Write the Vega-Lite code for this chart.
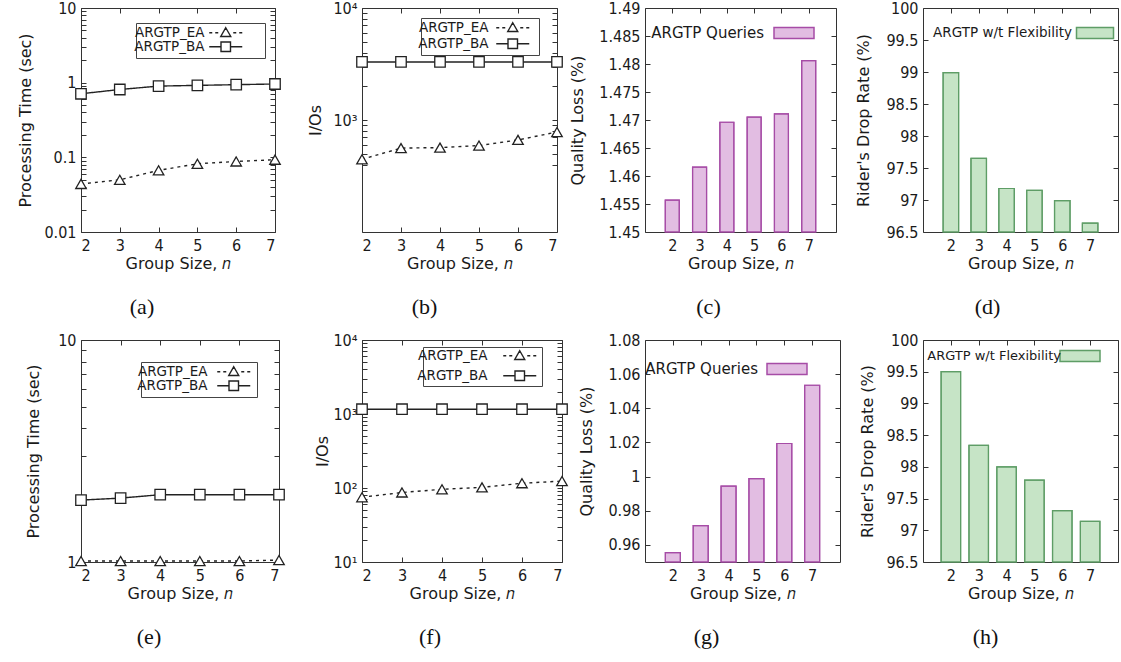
{
  "$schema": "https://vega.github.io/schema/vega-lite/v6.json",
  "background": "white",
  "padding": {"left": 17, "top": -1, "right": 0, "bottom": 0},
  "config": {
    "view": {"stroke": "#333", "strokeWidth": 1},
    "axis": {
      "grid": false, "domain": false, "tickColor": "#333", "tickSize": -5, "tickWidth": 1,
      "labelPadding": 10, "labelFont": "Liberation Sans Narrow, DejaVu Sans Condensed, sans-serif",
      "labelFontSize": 16, "labelColor": "#1a1a1a",
      "titleFont": "DejaVu Sans", "titleFontSize": 16, "titleFontWeight": "normal",
      "titleColor": "#1a1a1a", "titlePadding": 2
    },
    "title": {"orient": "bottom", "anchor": "middle", "font": "Liberation Serif", "fontSize": 22,
              "fontWeight": "normal", "color": "#111", "offset": 26},
    "legend": {"labelFont": "DejaVu Sans", "labelColor": "#1a1a1a", "title": null, "labelAlign": "right"}
  },
  "datasets": {
    "pa": [
      {"n": 2, "s": "ARGTP_EA", "v": 0.044}, {"n": 3, "s": "ARGTP_EA", "v": 0.050},
      {"n": 4, "s": "ARGTP_EA", "v": 0.067}, {"n": 5, "s": "ARGTP_EA", "v": 0.082},
      {"n": 6, "s": "ARGTP_EA", "v": 0.088}, {"n": 7, "s": "ARGTP_EA", "v": 0.093},
      {"n": 2, "s": "ARGTP_BA", "v": 0.71}, {"n": 3, "s": "ARGTP_BA", "v": 0.81},
      {"n": 4, "s": "ARGTP_BA", "v": 0.90}, {"n": 5, "s": "ARGTP_BA", "v": 0.92},
      {"n": 6, "s": "ARGTP_BA", "v": 0.94}, {"n": 7, "s": "ARGTP_BA", "v": 0.96}
    ],
    "pb": [
      {"n": 2, "s": "ARGTP_EA", "v": 446}, {"n": 3, "s": "ARGTP_EA", "v": 561},
      {"n": 4, "s": "ARGTP_EA", "v": 567}, {"n": 5, "s": "ARGTP_EA", "v": 591},
      {"n": 6, "s": "ARGTP_EA", "v": 664}, {"n": 7, "s": "ARGTP_EA", "v": 781},
      {"n": 2, "s": "ARGTP_BA", "v": 3300}, {"n": 3, "s": "ARGTP_BA", "v": 3300},
      {"n": 4, "s": "ARGTP_BA", "v": 3300}, {"n": 5, "s": "ARGTP_BA", "v": 3300},
      {"n": 6, "s": "ARGTP_BA", "v": 3300}, {"n": 7, "s": "ARGTP_BA", "v": 3300}
    ],
    "pc": [
      {"n": 2, "s": "ARGTP Queries", "v": 1.4557}, {"n": 3, "s": "ARGTP Queries", "v": 1.4616},
      {"n": 4, "s": "ARGTP Queries", "v": 1.4696}, {"n": 5, "s": "ARGTP Queries", "v": 1.4705},
      {"n": 6, "s": "ARGTP Queries", "v": 1.4711}, {"n": 7, "s": "ARGTP Queries", "v": 1.4806}
    ],
    "pd": [
      {"n": 2, "s": "ARGTP w/t Flexibility", "v": 98.99}, {"n": 3, "s": "ARGTP w/t Flexibility", "v": 97.65},
      {"n": 4, "s": "ARGTP w/t Flexibility", "v": 97.18}, {"n": 5, "s": "ARGTP w/t Flexibility", "v": 97.15},
      {"n": 6, "s": "ARGTP w/t Flexibility", "v": 96.99}, {"n": 7, "s": "ARGTP w/t Flexibility", "v": 96.64}
    ],
    "pe": [
      {"n": 2, "s": "ARGTP_EA", "v": 1.01}, {"n": 3, "s": "ARGTP_EA", "v": 1.01},
      {"n": 4, "s": "ARGTP_EA", "v": 1.01}, {"n": 5, "s": "ARGTP_EA", "v": 1.01},
      {"n": 6, "s": "ARGTP_EA", "v": 1.01}, {"n": 7, "s": "ARGTP_EA", "v": 1.02},
      {"n": 2, "s": "ARGTP_BA", "v": 1.90}, {"n": 3, "s": "ARGTP_BA", "v": 1.94},
      {"n": 4, "s": "ARGTP_BA", "v": 2.01}, {"n": 5, "s": "ARGTP_BA", "v": 2.01},
      {"n": 6, "s": "ARGTP_BA", "v": 2.01}, {"n": 7, "s": "ARGTP_BA", "v": 2.01}
    ],
    "pf": [
      {"n": 2, "s": "ARGTP_EA", "v": 75}, {"n": 3, "s": "ARGTP_EA", "v": 87},
      {"n": 4, "s": "ARGTP_EA", "v": 96}, {"n": 5, "s": "ARGTP_EA", "v": 102},
      {"n": 6, "s": "ARGTP_EA", "v": 116}, {"n": 7, "s": "ARGTP_EA", "v": 124},
      {"n": 2, "s": "ARGTP_BA", "v": 1160}, {"n": 3, "s": "ARGTP_BA", "v": 1160},
      {"n": 4, "s": "ARGTP_BA", "v": 1160}, {"n": 5, "s": "ARGTP_BA", "v": 1160},
      {"n": 6, "s": "ARGTP_BA", "v": 1160}, {"n": 7, "s": "ARGTP_BA", "v": 1160}
    ],
    "pg": [
      {"n": 2, "s": "ARGTP Queries", "v": 0.9555}, {"n": 3, "s": "ARGTP Queries", "v": 0.9713},
      {"n": 4, "s": "ARGTP Queries", "v": 0.9944}, {"n": 5, "s": "ARGTP Queries", "v": 0.9988},
      {"n": 6, "s": "ARGTP Queries", "v": 1.0194}, {"n": 7, "s": "ARGTP Queries", "v": 1.0535}
    ],
    "ph": [
      {"n": 2, "s": "ARGTP w/t Flexibility", "v": 99.5}, {"n": 3, "s": "ARGTP w/t Flexibility", "v": 98.34},
      {"n": 4, "s": "ARGTP w/t Flexibility", "v": 98.0}, {"n": 5, "s": "ARGTP w/t Flexibility", "v": 97.79},
      {"n": 6, "s": "ARGTP w/t Flexibility", "v": 97.31}, {"n": 7, "s": "ARGTP w/t Flexibility", "v": 97.14}
    ]
  },
  "columns": 4,
  "bounds": "flush",
  "align": "each",
  "spacing": {"row": 108, "column": 83},
  "resolve": {
    "scale": {"color": "independent", "strokeWidth": "independent"},
    "legend": {"color": "independent", "strokeWidth": "independent"}
  },
  "concat": [
    {
      "width": 194, "height": 224,
      "data": {"name": "pa"},
      "title": {"text": "(a)", "dx": -36},
      "layer": [
        {
          "mark": {"type": "line", "color": "#222"},
          "encoding": {
            "x": {"field": "n", "type": "quantitative", "scale": {"domain": [2, 7]},
                  "axis": {"orient": "bottom", "values": [2, 3, 4, 5, 6, 7], "title": "Group Size, 𝑛"}},
            "y": {"field": "v", "type": "quantitative", "scale": {"type": "log", "domain": [0.01, 10]},
                  "axis": {"orient": "left", "title": "Processing Time (sec)", "titlePadding": 10,
                           "values": [0.01, 0.02, 0.03, 0.04, 0.05, 0.06, 0.07, 0.08, 0.09, 0.1, 0.2, 0.3, 0.4, 0.5, 0.6, 0.7, 0.8, 0.9, 1, 2, 3, 4, 5, 6, 7, 8, 9, 10],
                           "labelExpr": "datum.value === 0.01 ? '0.01' : datum.value === 0.1 ? '0.1' : datum.value === 1 ? '1' : datum.value === 10 ? '10' : ''"}},
            "strokeDash": {"condition": {"test": "datum.s === 'ARGTP_EA'", "value": [3, 4]}, "value": [1, 0]},
            "strokeWidth": {"field": "s", "type": "ordinal",
                            "scale": {"domain": ["ARGTP_EA", "ARGTP_BA"], "range": [1.4, 1.4]},
                            "legend": {"orient": "none", "legendX": 55, "legendY": 15, "strokeColor": "#444", "fillColor": "white",
                                       "padding": 3, "rowPadding": -10, "labelFontSize": 13.5, "symbolSize": 100,
                                       "labelOffset": -28, "symbolOffset": 80,
                                       "symbolType": {"expr": "datum.value === 'ARGTP_EA' ? 'M-3.3,0H-2.7M-2.1,0H-1.5M1.5,0H2.1M2.7,0H3.3M0,-1L1,0.75H-1ZM6.6,0M-19,0' : 'M-3.3,0H-0.95M0.95,0H3.3M-0.95,-0.95H0.95V0.95H-0.95ZM6.6,0M-19,0'"},
                                       "encode": {"symbols": {"fill": {"value": "transparent"}, "stroke": {"value": "#222"}}}}}
          }
        },
        {
          "mark": {"type": "point", "filled": true, "fill": "white", "stroke": "#222", "strokeWidth": 1.3, "size": 110, "opacity": 1},
          "encoding": {
            "x": {"field": "n", "type": "quantitative",
                  "axis": {"orient": "top", "values": [2, 3, 4, 5, 6, 7], "labels": false, "title": null}},
            "y": {"field": "v", "type": "quantitative",
                  "axis": {"orient": "right", "labels": false, "title": null,
                           "values": [0.01, 0.02, 0.03, 0.04, 0.05, 0.06, 0.07, 0.08, 0.09, 0.1, 0.2, 0.3, 0.4, 0.5, 0.6, 0.7, 0.8, 0.9, 1, 2, 3, 4, 5, 6, 7, 8, 9, 10]}},
            "shape": {"condition": {"test": "datum.s === 'ARGTP_EA'", "value": "triangle-up"}, "value": "square"}
          }
        }
      ]
    },
    {
      "width": 195, "height": 224,
      "data": {"name": "pb"},
      "title": {"text": "(b)", "dx": -35},
      "layer": [
        {
          "mark": {"type": "line", "color": "#222"},
          "encoding": {
            "x": {"field": "n", "type": "quantitative", "scale": {"domain": [2, 7]},
                  "axis": {"orient": "bottom", "values": [2, 3, 4, 5, 6, 7], "title": "Group Size, 𝑛"}},
            "y": {"field": "v", "type": "quantitative", "scale": {"type": "log", "domain": [300, 10000]},
                  "axis": {"orient": "left", "title": "I/Os", "titlePadding": 9,
                           "values": [400, 500, 600, 700, 800, 900, 1000, 2000, 3000, 4000, 5000, 6000, 7000, 8000, 9000, 10000],
                           "labelExpr": "datum.value === 1000 ? '10³' : datum.value === 10000 ? '10⁴' : ''"}},
            "strokeDash": {"condition": {"test": "datum.s === 'ARGTP_EA'", "value": [3, 4]}, "value": [1, 0]},
            "strokeWidth": {"field": "s", "type": "ordinal",
                            "scale": {"domain": ["ARGTP_EA", "ARGTP_BA"], "range": [1.4, 1.4]},
                            "legend": {"orient": "none", "legendX": 59, "legendY": 10, "strokeColor": "#444", "fillColor": "white",
                                       "padding": 3, "rowPadding": 1, "labelFontSize": 13.5, "symbolSize": 100,
                                       "labelOffset": -31, "symbolOffset": 82,
                                       "symbolType": {"expr": "datum.value === 'ARGTP_EA' ? 'M-3.3,0H-2.7M-2.1,0H-1.5M1.5,0H2.1M2.7,0H3.3M0,-1L1,0.75H-1ZM4,0' : 'M-3.3,0H-0.95M0.95,0H3.3M-0.95,-0.95H0.95V0.95H-0.95ZM4,0'"},
                                       "encode": {"symbols": {"fill": {"value": "transparent"}, "stroke": {"value": "#222"}}}}}
          }
        },
        {
          "mark": {"type": "point", "filled": true, "fill": "white", "stroke": "#222", "strokeWidth": 1.3, "size": 110, "opacity": 1},
          "encoding": {
            "x": {"field": "n", "type": "quantitative",
                  "axis": {"orient": "top", "values": [2, 3, 4, 5, 6, 7], "labels": false, "title": null}},
            "y": {"field": "v", "type": "quantitative",
                  "axis": {"orient": "right", "labels": false, "title": null,
                           "values": [400, 500, 600, 700, 800, 900, 1000, 2000, 3000, 4000, 5000, 6000, 7000, 8000, 9000, 10000]}},
            "shape": {"condition": {"test": "datum.s === 'ARGTP_EA'", "value": "triangle-up"}, "value": "square"}
          }
        }
      ]
    },
    {
      "width": 191, "height": 224,
      "data": {"name": "pc"},
      "title": {"text": "(c)", "dx": -32},
      "layer": [
        {
          "mark": {"type": "bar", "width": 14, "stroke": "#a64ca6", "strokeWidth": 1.2},
          "encoding": {
            "x": {"field": "n", "type": "quantitative", "scale": {"domain": [1, 8], "zero": false, "nice": false, "padding": 0},
                  "axis": {"orient": "bottom", "values": [2, 3, 4, 5, 6, 7], "title": "Group Size, 𝑛"}},
            "y": {"field": "v", "type": "quantitative", "scale": {"domain": [1.45, 1.49], "zero": false},
                  "axis": {"orient": "left", "title": "Quality Loss (%)", "format": ".3~f", "titlePadding": 13,
                           "values": [1.45, 1.455, 1.46, 1.465, 1.47, 1.475, 1.48, 1.485, 1.49]}},
            "y2": {"datum": 1.45},
            "color": {"field": "s", "type": "nominal", "scale": {"range": ["#e2bde2"]},
                      "legend": {"orient": "none", "legendX": 16, "legendY": 14, "padding": 0,
                                 "labelFontSize": 15, "symbolSize": 400, "labelOffset": -41, "symbolOffset": 122,
                                 "symbolType": "M-2,-0.55H2V0.55H-2Z",
                                 "encode": {"symbols": {
                                   "fill": {"value": "#e2bde2"}, "stroke": {"value": "#a64ca6"},
                                   "strokeWidth": {"value": 1.2}}}}}
          }
        },
        {
          "mark": {"type": "bar", "width": 14, "fillOpacity": 0, "stroke": "#a64ca6", "strokeWidth": 1.2},
          "encoding": {
            "x": {"field": "n", "type": "quantitative",
                  "axis": {"orient": "top", "values": [2, 3, 4, 5, 6, 7], "labels": false, "title": null}},
            "y": {"field": "v", "type": "quantitative",
                  "axis": {"orient": "right", "labels": false, "title": null,
                           "values": [1.45, 1.455, 1.46, 1.465, 1.47, 1.475, 1.48, 1.485, 1.49]}},
            "y2": {"datum": 1.45}
          }
        }
      ]
    },
    {
      "width": 195, "height": 224,
      "data": {"name": "pd"},
      "title": {"text": "(d)", "dx": -33},
      "layer": [
        {
          "mark": {"type": "bar", "width": 15.5, "stroke": "#5e9d66", "strokeWidth": 1.2},
          "encoding": {
            "x": {"field": "n", "type": "quantitative", "scale": {"domain": [1, 8], "zero": false, "nice": false, "padding": 0},
                  "axis": {"orient": "bottom", "values": [2, 3, 4, 5, 6, 7], "title": "Group Size, 𝑛"}},
            "y": {"field": "v", "type": "quantitative", "scale": {"domain": [96.5, 100], "zero": false},
                  "axis": {"orient": "left", "title": "Rider's Drop Rate (%)", "format": ".1~f", "titlePadding": 14,
                           "values": [96.5, 97, 97.5, 98, 98.5, 99, 99.5, 100]}},
            "y2": {"datum": 96.5},
            "color": {"field": "s", "type": "nominal", "scale": {"range": ["#c6e4c6"]},
                      "legend": {"orient": "none", "legendX": 18, "legendY": 14, "padding": 0,
                                 "labelFontSize": 13.5, "symbolSize": 400, "labelOffset": -34, "symbolOffset": 143,
                                 "symbolType": "M-1.85,-0.55H1.85V0.55H-1.85Z",
                                 "encode": {"symbols": {
                                   "fill": {"value": "#c6e4c6"}, "stroke": {"value": "#5e9d66"},
                                   "strokeWidth": {"value": 1.2}}}}}
          }
        },
        {
          "mark": {"type": "bar", "width": 15.5, "fillOpacity": 0, "stroke": "#5e9d66", "strokeWidth": 1.2},
          "encoding": {
            "x": {"field": "n", "type": "quantitative",
                  "axis": {"orient": "top", "values": [2, 3, 4, 5, 6, 7], "labels": false, "title": null}},
            "y": {"field": "v", "type": "quantitative",
                  "axis": {"orient": "right", "labels": false, "title": null,
                           "values": [96.5, 97, 97.5, 98, 98.5, 99, 99.5, 100]}},
            "y2": {"datum": 96.5}
          }
        }
      ]
    },
    {
      "width": 198, "height": 222,
      "data": {"name": "pe"},
      "title": {"text": "(e)", "dx": -31},
      "layer": [
        {
          "mark": {"type": "line", "color": "#222"},
          "encoding": {
            "x": {"field": "n", "type": "quantitative", "scale": {"domain": [2, 7]},
                  "axis": {"orient": "bottom", "values": [2, 3, 4, 5, 6, 7], "title": "Group Size, 𝑛"}},
            "y": {"field": "v", "type": "quantitative", "scale": {"type": "log", "domain": [1, 10]},
                  "axis": {"orient": "left", "title": "Processing Time (sec)", "titlePadding": 16,
                           "values": [1, 2, 3, 4, 5, 6, 7, 8, 9, 10],
                           "labelExpr": "datum.value === 1 ? '1' : datum.value === 10 ? '10' : ''"}},
            "strokeDash": {"condition": {"test": "datum.s === 'ARGTP_EA'", "value": [3, 4]}, "value": [1, 0]},
            "strokeWidth": {"field": "s", "type": "ordinal",
                            "scale": {"domain": ["ARGTP_EA", "ARGTP_BA"], "range": [1.4, 1.4]},
                            "legend": {"orient": "none", "legendX": 60, "legendY": 22, "strokeColor": "#444", "fillColor": "white",
                                       "padding": 3, "rowPadding": -1, "labelFontSize": 13.5, "symbolSize": 100,
                                       "labelOffset": -33, "symbolOffset": 83,
                                       "symbolType": {"expr": "datum.value === 'ARGTP_EA' ? 'M-3.3,0H-2.7M-2.1,0H-1.5M1.5,0H2.1M2.7,0H3.3M0,-1L1,0.75H-1ZM-19,0' : 'M-3.3,0H-0.95M0.95,0H3.3M-0.95,-0.95H0.95V0.95H-0.95ZM-19,0'"},
                                       "encode": {"symbols": {"fill": {"value": "transparent"}, "stroke": {"value": "#222"}}}}}
          }
        },
        {
          "mark": {"type": "point", "filled": true, "fill": "white", "stroke": "#222", "strokeWidth": 1.3, "size": 110, "opacity": 1},
          "encoding": {
            "x": {"field": "n", "type": "quantitative",
                  "axis": {"orient": "top", "values": [2, 3, 4, 5, 6, 7], "labels": false, "title": null}},
            "y": {"field": "v", "type": "quantitative",
                  "axis": {"orient": "right", "labels": false, "title": null,
                           "values": [1, 2, 3, 4, 5, 6, 7, 8, 9, 10]}},
            "shape": {"condition": {"test": "datum.s === 'ARGTP_EA'", "value": "triangle-up"}, "value": "square"}
          }
        }
      ]
    },
    {
      "width": 200, "height": 222,
      "data": {"name": "pf"},
      "title": {"text": "(f)", "dx": -32},
      "layer": [
        {
          "mark": {"type": "line", "color": "#222"},
          "encoding": {
            "x": {"field": "n", "type": "quantitative", "scale": {"domain": [2, 7]},
                  "axis": {"orient": "bottom", "values": [2, 3, 4, 5, 6, 7], "title": "Group Size, 𝑛"}},
            "y": {"field": "v", "type": "quantitative", "scale": {"type": "log", "domain": [10, 10000]},
                  "axis": {"orient": "left", "title": "I/Os", "titlePadding": 2,
                           "values": [10, 20, 30, 40, 50, 60, 70, 80, 90, 100, 200, 300, 400, 500, 600, 700, 800, 900, 1000, 2000, 3000, 4000, 5000, 6000, 7000, 8000, 9000, 10000],
                           "labelExpr": "datum.value === 10 ? '10¹' : datum.value === 100 ? '10²' : datum.value === 1000 ? '10³' : datum.value === 10000 ? '10⁴' : ''"}},
            "strokeDash": {"condition": {"test": "datum.s === 'ARGTP_EA'", "value": [3, 4]}, "value": [1, 0]},
            "strokeWidth": {"field": "s", "type": "ordinal",
                            "scale": {"domain": ["ARGTP_EA", "ARGTP_BA"], "range": [1.4, 1.4]},
                            "legend": {"orient": "none", "legendX": 61, "legendY": 7, "strokeColor": "#444", "fillColor": "white",
                                       "padding": 2, "rowPadding": 5, "labelFontSize": 13.5, "symbolSize": 100,
                                       "labelOffset": -39, "symbolOffset": 88,
                                       "symbolType": {"expr": "datum.value === 'ARGTP_EA' ? 'M-3.3,0H-2.7M-2.1,0H-1.5M1.5,0H2.1M2.7,0H3.3M0,-1L1,0.75H-1ZM-19.4,0' : 'M-3.3,0H-0.95M0.95,0H3.3M-0.95,-0.95H0.95V0.95H-0.95ZM-19.4,0'"},
                                       "encode": {"symbols": {"fill": {"value": "transparent"}, "stroke": {"value": "#222"}}}}}
          }
        },
        {
          "mark": {"type": "point", "filled": true, "fill": "white", "stroke": "#222", "strokeWidth": 1.3, "size": 110, "opacity": 1},
          "encoding": {
            "x": {"field": "n", "type": "quantitative",
                  "axis": {"orient": "top", "values": [2, 3, 4, 5, 6, 7], "labels": false, "title": null}},
            "y": {"field": "v", "type": "quantitative",
                  "axis": {"orient": "right", "labels": false, "title": null,
                           "values": [10, 20, 30, 40, 50, 60, 70, 80, 90, 100, 200, 300, 400, 500, 600, 700, 800, 900, 1000, 2000, 3000, 4000, 5000, 6000, 7000, 8000, 9000, 10000]}},
            "shape": {"condition": {"test": "datum.s === 'ARGTP_EA'", "value": "triangle-up"}, "value": "square"}
          }
        }
      ]
    },
    {
      "width": 195, "height": 222,
      "data": {"name": "pg"},
      "title": {"text": "(g)", "dx": -36},
      "layer": [
        {
          "mark": {"type": "bar", "width": 15, "stroke": "#a64ca6", "strokeWidth": 1.2},
          "encoding": {
            "x": {"field": "n", "type": "quantitative", "scale": {"domain": [1, 8], "zero": false, "nice": false, "padding": 0},
                  "axis": {"orient": "bottom", "values": [2, 3, 4, 5, 6, 7], "title": "Group Size, 𝑛"}},
            "y": {"field": "v", "type": "quantitative", "scale": {"domain": [0.95, 1.08], "zero": false},
                  "axis": {"orient": "left", "title": "Quality Loss (%)", "format": ".2~f", "titlePadding": 13,
                           "values": [0.96, 0.98, 1, 1.02, 1.04, 1.06, 1.08]}},
            "y2": {"datum": 0.95},
            "color": {"field": "s", "type": "nominal", "scale": {"range": ["#e2bde2"]},
                      "legend": {"orient": "none", "legendX": 6, "legendY": 18, "padding": 0,
                                 "labelFontSize": 15, "symbolSize": 400, "labelOffset": -40, "symbolOffset": 125,
                                 "symbolType": "M-2,-0.55H2V0.55H-2Z",
                                 "encode": {"symbols": {
                                   "fill": {"value": "#e2bde2"}, "stroke": {"value": "#a64ca6"},
                                   "strokeWidth": {"value": 1.2}}}}}
          }
        },
        {
          "mark": {"type": "bar", "width": 15, "fillOpacity": 0, "stroke": "#a64ca6", "strokeWidth": 1.2},
          "encoding": {
            "x": {"field": "n", "type": "quantitative",
                  "axis": {"orient": "top", "values": [2, 3, 4, 5, 6, 7], "labels": false, "title": null}},
            "y": {"field": "v", "type": "quantitative",
                  "axis": {"orient": "right", "labels": false, "title": null,
                           "values": [0.96, 0.98, 1, 1.02, 1.04, 1.06, 1.08]}},
            "y2": {"datum": 0.95}
          }
        }
      ]
    },
    {
      "width": 195, "height": 222,
      "data": {"name": "ph"},
      "title": {"text": "(h)", "dx": -35},
      "layer": [
        {
          "mark": {"type": "bar", "width": 19.5, "stroke": "#5e9d66", "strokeWidth": 1.2},
          "encoding": {
            "x": {"field": "n", "type": "quantitative", "scale": {"domain": [1, 8], "zero": false, "nice": false, "padding": 0},
                  "axis": {"orient": "bottom", "values": [2, 3, 4, 5, 6, 7], "title": "Group Size, 𝑛"}},
            "y": {"field": "v", "type": "quantitative", "scale": {"domain": [96.5, 100], "zero": false},
                  "axis": {"orient": "left", "title": "Rider's Drop Rate (%)", "format": ".1~f", "titlePadding": 10,
                           "values": [96.5, 97, 97.5, 98, 98.5, 99, 99.5, 100]}},
            "y2": {"datum": 96.5},
            "color": {"field": "s", "type": "nominal", "scale": {"range": ["#c6e4c6"]},
                      "legend": {"orient": "none", "legendX": 8, "legendY": 5, "padding": 0,
                                 "labelFontSize": 13, "symbolSize": 400, "labelOffset": -30, "symbolOffset": 138,
                                 "symbolType": "M-2,-0.55H2V0.55H-2Z",
                                 "encode": {"symbols": {
                                   "fill": {"value": "#c6e4c6"}, "stroke": {"value": "#5e9d66"},
                                   "strokeWidth": {"value": 1.2}}}}}
          }
        },
        {
          "mark": {"type": "bar", "width": 19.5, "fillOpacity": 0, "stroke": "#5e9d66", "strokeWidth": 1.2},
          "encoding": {
            "x": {"field": "n", "type": "quantitative",
                  "axis": {"orient": "top", "values": [2, 3, 4, 5, 6, 7], "labels": false, "title": null}},
            "y": {"field": "v", "type": "quantitative",
                  "axis": {"orient": "right", "labels": false, "title": null,
                           "values": [96.5, 97, 97.5, 98, 98.5, 99, 99.5, 100]}},
            "y2": {"datum": 96.5}
          }
        }
      ]
    }
  ]
}
